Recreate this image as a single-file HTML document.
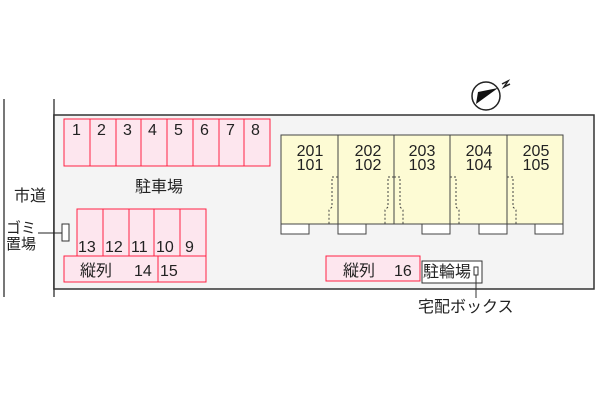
<!DOCTYPE html><html><head><style>body{margin:0;background:#fff}svg text{font-family:"Liberation Sans","Noto Sans CJK JP",sans-serif;fill:#222}</style></head><body>
<svg width="600" height="400" xmlns="http://www.w3.org/2000/svg">
<line x1="4" y1="99" x2="4" y2="297" stroke="#777" stroke-width="2"/>
<line x1="54" y1="99" x2="54" y2="297" stroke="#777" stroke-width="2"/>
<rect x="54" y="115" width="540" height="174" fill="#f4f4f4" stroke="#333" stroke-width="1.5"/>
<g fill="#fde6ee" stroke="#f24" stroke-width="1">
<rect x="64" y="119" width="206" height="47"/>
<rect x="77" y="209" width="129" height="47"/>
<rect x="64" y="256" width="142" height="26"/>
<rect x="326" y="256" width="94" height="25"/>
</g>
<g stroke="#f24"><line x1="90" y1="119" x2="90" y2="166"/><line x1="116" y1="119" x2="116" y2="166"/><line x1="141" y1="119" x2="141" y2="166"/><line x1="167" y1="119" x2="167" y2="166"/><line x1="193" y1="119" x2="193" y2="166"/><line x1="219" y1="119" x2="219" y2="166"/><line x1="244" y1="119" x2="244" y2="166"/>
<line x1="103" y1="209" x2="103" y2="256"/><line x1="129" y1="209" x2="129" y2="256"/><line x1="154" y1="209" x2="154" y2="256"/><line x1="180" y1="209" x2="180" y2="256"/><line x1="158" y1="256" x2="158" y2="282"/></g>
<g font-size="16"><text x="72" y="135">1</text><text x="97" y="135">2</text><text x="123" y="135">3</text><text x="148" y="135">4</text><text x="174" y="135">5</text><text x="200" y="135">6</text><text x="226" y="135">7</text><text x="251" y="135">8</text>
<text x="78" y="252">13</text><text x="105" y="252">12</text><text x="131" y="252">11</text><text x="156" y="252">10</text><text x="185" y="252">9</text>
<text x="80" y="276">縦列</text><text x="134" y="276">14</text><text x="160" y="276">15</text>
<text x="135" y="192">駐車場</text><text x="14" y="201">市道</text>
<text x="6" y="233" font-size="15">ゴミ</text><text x="6" y="249" font-size="15">置場</text>
<text x="343" y="276">縦列</text><text x="394" y="276">16</text>
<text x="418" y="312">宅配ボックス</text></g>
<line x1="38" y1="233" x2="62" y2="233" stroke="#222"/>
<rect x="62" y="224" width="7" height="17" fill="#fff" stroke="#333"/>
<rect x="281" y="135" width="282" height="89" fill="#fdfbd4" stroke="#444"/>
<g stroke="#444"><line x1="338" y1="135" x2="338" y2="224"/><line x1="394" y1="135" x2="394" y2="224"/><line x1="450" y1="135" x2="450" y2="224"/><line x1="507" y1="135" x2="507" y2="224"/></g>
<g fill="#fff" stroke="#444"><rect x="281" y="224" width="28" height="10"/><rect x="338" y="224" width="28" height="10"/><rect x="422" y="224" width="28" height="10"/><rect x="479" y="224" width="28" height="10"/><rect x="535" y="224" width="28" height="10"/></g>
<g fill="none" stroke="#444" stroke-dasharray="2,2"><path d="M338 177h-6v30l-3 3v14"/><path d="M394 177h-6v30l-3 3v14M394 177h6v30l3 3v14"/><path d="M450 177h6v30l3 3v14"/><path d="M507 177h6v30l3 3v14"/></g>
<g font-size="16" text-anchor="middle"><text x="310" y="156">201</text><text x="310" y="170">101</text><text x="368" y="156">202</text><text x="368" y="170">102</text><text x="422" y="156">203</text><text x="422" y="170">103</text><text x="479" y="156">204</text><text x="479" y="170">104</text><text x="536" y="156">205</text><text x="536" y="170">105</text></g>
<rect x="422" y="261" width="60" height="22" fill="#fff" stroke="#333"/>
<text x="423" y="277" font-size="16">駐輪場</text>
<rect x="474" y="267" width="4" height="8" fill="#fff" stroke="#333"/>
<line x1="476" y1="275" x2="476" y2="298" stroke="#333"/>
<circle cx="486" cy="96" r="14" fill="#fff" stroke="#222" stroke-width="1.5"/>
<path d="M476 104 L498 88 L478 92 Z" fill="#111"/>
<path d="M502 84 l6 -3 l-4 6 l6 -3" fill="none" stroke="#222" stroke-width="1.5"/>
</svg></body></html>
